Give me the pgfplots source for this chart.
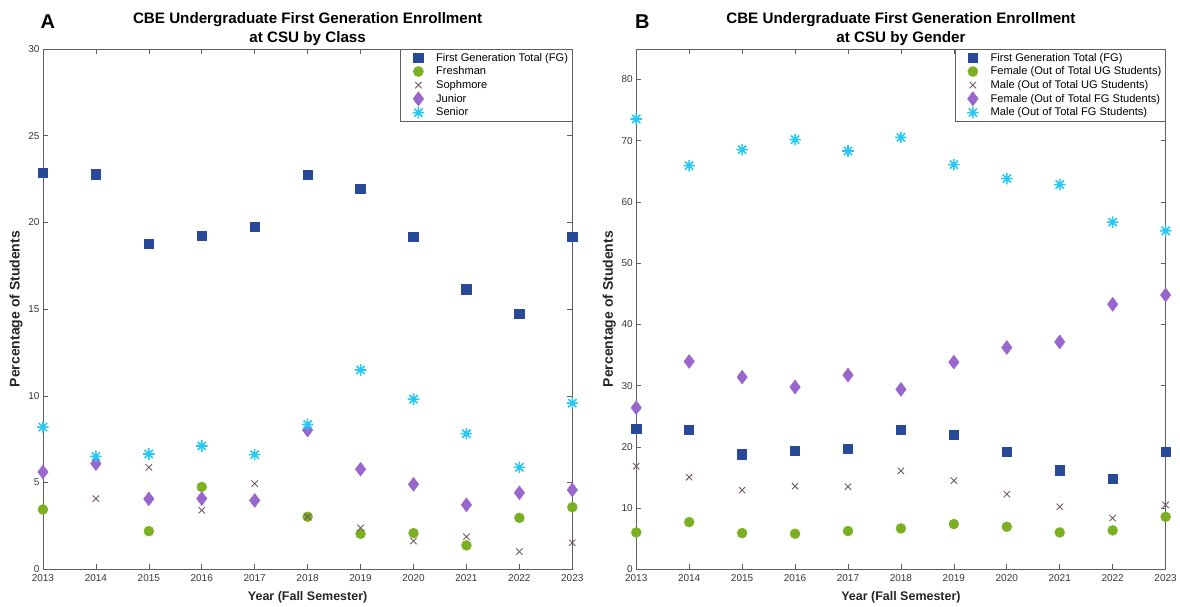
\documentclass[border=0pt]{standalone}
\usepackage{fontspec}
\setmainfont{Liberation Sans}
\usepackage{pgfplots}
\pgfplotsset{compat=1.18}

\definecolor{fgblue}{RGB}{40,72,152}
\definecolor{frgreen}{RGB}{122,176,34}
\definecolor{sogray}{RGB}{112,92,96}
\definecolor{jupurple}{RGB}{152,102,204}
\definecolor{secyan}{RGB}{40,200,245}
\definecolor{axgray}{RGB}{95,95,95}
\definecolor{txtgray}{RGB}{55,55,55}

\pgfdeclareplotmark{ast8}{%
  \pgfpathmoveto{\pgfqpoint{0pt}{\pgfplotmarksize}}\pgfpathlineto{\pgfqpoint{0pt}{-\pgfplotmarksize}}%
  \pgfpathmoveto{\pgfqpoint{\pgfplotmarksize}{0pt}}\pgfpathlineto{\pgfqpoint{-\pgfplotmarksize}{0pt}}%
  \pgfpathmoveto{\pgfqpoint{0.707\pgfplotmarksize}{0.707\pgfplotmarksize}}\pgfpathlineto{\pgfqpoint{-0.707\pgfplotmarksize}{-0.707\pgfplotmarksize}}%
  \pgfpathmoveto{\pgfqpoint{0.707\pgfplotmarksize}{-0.707\pgfplotmarksize}}\pgfpathlineto{\pgfqpoint{-0.707\pgfplotmarksize}{0.707\pgfplotmarksize}}%
  \pgfusepathqstroke}

\pgfplotsset{
  matstyle/.style={
    scale only axis, width=530pt, height=521pt,
    anchor=south west,
    xmin=2013, xmax=2023, xtick={2013,2014,...,2023},
    ymin=0,
    x tick label style={/pgf/number format/1000 sep={}, yshift=-2pt},
    /pgf/number format/assume math mode=true,
    tick align=inside, major tick length=5pt,
    axis line style={axgray, line width=0.7pt},
    tick style={axgray, line width=0.6pt},
    tick label style={font=\fontsize{10}{12}\selectfont, text=txtgray},
    xlabel={Year (Fall Semester)},
    ylabel={Percentage of Students},
    xlabel style={font=\bfseries\fontsize{12.5}{15}\selectfont, text=black!85,
      at={(axis description cs:0.5,0)}, anchor=center, yshift=-28pt},
    ylabel style={font=\bfseries\fontsize{14}{16}\selectfont, text=black!85,
      at={(axis description cs:-0.0509,0.5)}, anchor=center},
    title style={font=\bfseries\fontsize{15.2}{19.5}\selectfont, align=center,
      at={(axis description cs:0.5,1)}, anchor=south, inner sep=0pt, yshift=-3pt},
    legend style={at={(rel axis cs:1,1)}, anchor=north east,
      font=\fontsize{11.1}{12.5}\selectfont, draw=axgray, line width=0.6pt,
      cells={anchor=west}, row sep=0pt, inner sep=2pt},
    legend cell align=left,
  },
  om/.style={only marks,
    legend image code/.code={\path (0pt,0pt) (31pt,0pt); \draw plot coordinates {(15.5pt,0pt)};}},
  fgs/.style={om, mark=square*, mark size=4.7pt, color=fgblue, mark options={fill=fgblue, draw=fgblue, line width=0.8pt, line join=round}},
  fr/.style={om, mark=*, mark size=5pt, color=frgreen, mark options={fill=frgreen, draw=frgreen}},
  so/.style={om, mark=x, mark size=4.5pt, color=sogray, mark options={line width=0.9pt}},
  ju/.style={om, mark=diamond*, mark size=7pt, color=jupurple, mark options={fill=jupurple, draw=jupurple}},
  se/.style={om, mark=ast8, mark size=5.8pt, color=secyan, mark options={line width=1.6pt}},
}

\begin{document}
\begin{tikzpicture}[x=1pt,y=1pt]
\path (0,0) rectangle (1180,606);

% ---------------- Panel A ----------------
\begin{axis}[matstyle, at={(43pt,36pt)},
  ymax=30, ytick={0,5,...,30},
  title={CBE Undergraduate First Generation Enrollment\\at CSU by Class}]
\addplot[fgs] coordinates {
 (2013,22.84) (2014,22.76) (2015,18.75) (2016,19.23) (2017,19.73) (2018,22.74)
 (2019,21.93) (2020,19.18) (2021,16.13) (2022,14.71) (2023,19.18)};
\addlegendentry{First Generation Total (FG)}
\addplot[fr] coordinates {
 (2013,3.45) (2015,2.20) (2016,4.75) (2018,3.03) (2019,2.05)
 (2020,2.09) (2021,1.38) (2022,2.97) (2023,3.58)};
\addlegendentry{Freshman}
\addplot[so] coordinates {
 (2014,4.08) (2015,5.88) (2016,3.41) (2017,4.94) (2018,3.03) (2019,2.39)
 (2020,1.63) (2021,1.88) (2022,1.02) (2023,1.53)};
\addlegendentry{Sophmore}
\addplot[ju] coordinates {
 (2013,5.61) (2014,6.09) (2015,4.06) (2016,4.08) (2017,3.97) (2018,8.03)
 (2019,5.77) (2020,4.90) (2021,3.72) (2022,4.41) (2023,4.58)};
\addlegendentry{Junior}
\addplot[se] coordinates {
 (2013,8.20) (2014,6.51) (2015,6.65) (2016,7.11) (2017,6.61) (2018,8.35)
 (2019,11.49) (2020,9.81) (2021,7.82) (2022,5.88) (2023,9.58)};
\addlegendentry{Senior}
\end{axis}

% ---------------- Panel B ----------------
\begin{axis}[matstyle, at={(637pt,36pt)},
  ymax=85, ytick={0,10,...,80},
  title={CBE Undergraduate First Generation Enrollment\\at CSU by Gender}]
\addplot[fgs] coordinates {
 (2013,22.92) (2014,22.81) (2015,18.79) (2016,19.34) (2017,19.72) (2018,22.81)
 (2019,21.94) (2020,19.17) (2021,16.13) (2022,14.72) (2023,19.17)};
\addlegendentry{First Generation Total (FG)}
\addplot[fr] coordinates {
 (2013,6.03) (2014,7.71) (2015,5.92) (2016,5.81) (2017,6.25) (2018,6.68)
 (2019,7.39) (2020,6.95) (2021,6.03) (2022,6.36) (2023,8.58)};
\addlegendentry{Female (Out of Total UG Students)}
\addplot[so] coordinates {
 (2013,16.84) (2014,15.05) (2015,12.93) (2016,13.58) (2017,13.47) (2018,16.08)
 (2019,14.50) (2020,12.28) (2021,10.21) (2022,8.37) (2023,10.54)};
\addlegendentry{Male (Out of Total UG Students)}
\addplot[ju] coordinates {
 (2013,26.40) (2014,33.95) (2015,31.40) (2016,29.77) (2017,31.72) (2018,29.39)
 (2019,33.84) (2020,36.23) (2021,37.15) (2022,43.29) (2023,44.81)};
\addlegendentry{Female (Out of Total FG Students)}
\addplot[se] coordinates {
 (2013,73.55) (2014,65.94) (2015,68.55) (2016,70.18) (2017,68.33) (2018,70.56)
 (2019,66.10) (2020,63.82) (2021,62.84) (2022,56.71) (2023,55.30)};
\addlegendentry{Male (Out of Total FG Students)}
\end{axis}

\node[font=\bfseries\fontsize{20}{22}\selectfont] at (48,584) {A};
\node[font=\bfseries\fontsize{20}{22}\selectfont] at (643,584) {B};
\end{tikzpicture}
\end{document}
